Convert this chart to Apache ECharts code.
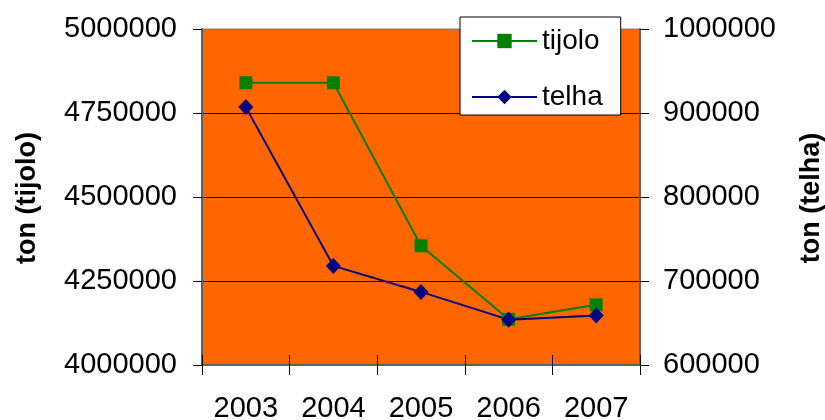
<!DOCTYPE html>
<html>
<head>
<meta charset="utf-8">
<script src="https://cdn.jsdelivr.net/npm/echarts@6/dist/echarts.min.js"></script>
<style>
  html, body { margin: 0; padding: 0; background: #fff; }
  #chart { width: 825px; height: 420px; }
</style>
</head>
<body>
<div id="chart"></div>
<script>
const years = ['2003', '2004', '2005', '2006', '2007']
const tijolo = [4840000, 4840000, 4355000, 4136000, 4179000]
const telha = [907000, 718000, 687000, 654000, 659000]

const font = 'Liberation Sans, Arial, sans-serif'
const chart = echarts.init(document.getElementById('chart'))

chart.setOption({
  animation: false,
  textStyle: { fontFamily: font },
  grid: {
    left: 202, right: 185, top: 29, bottom: 55,
    outerBoundsMode: 'none',
    show: true, backgroundColor: '#FF6600', borderColor: '#808080', borderWidth: 1
  },
  legend: {
    orient: 'vertical',
    left: 460, top: 17,
    padding: [10, 18, 4, 11],
    itemWidth: 65, itemHeight: 18, itemGap: 28,
    backgroundColor: '#fff', borderColor: '#000', borderWidth: 1,
    textStyle: { fontSize: 28, lineHeight: 28, color: '#000', fontFamily: font }
  },
  xAxis: [
    {
      type: 'category', data: years, boundaryGap: true,
      axisLine: { lineStyle: { color: '#606060', width: 2 } },
      axisTick: { show: true, length: 10, lineStyle: { color: '#000' } },
      axisLabel: { fontSize: 29, color: '#000', margin: 29, fontFamily: font }
    },
    {
      type: 'category', data: years, position: 'bottom', boundaryGap: true,
      axisLine: { show: false },
      axisTick: { show: true, inside: true, length: 10, lineStyle: { color: '#000' } },
      axisLabel: { show: false }
    }
  ],
  yAxis: [
    {
      type: 'value', min: 4000000, max: 5000000, interval: 250000,
      axisLine: { show: true, lineStyle: { color: '#606060', width: 2 } },
      axisTick: { show: true, length: 9, lineStyle: { color: '#000' } },
      axisLabel: { fontSize: 29, color: '#000', margin: 25, fontFamily: font, formatter: (v) => String(v) },
      splitLine: { show: true, lineStyle: { color: ['#808080', '#000', '#000', '#000', '#808080'], width: 1 } }
    },
    {
      type: 'value', min: 600000, max: 1000000, interval: 100000, position: 'right',
      axisLine: { show: true, lineStyle: { color: '#606060', width: 2 } },
      axisTick: { show: true, length: 9, lineStyle: { color: '#000' } },
      axisLabel: { fontSize: 29, color: '#000', margin: 23, fontFamily: font, formatter: (v) => String(v) },
      splitLine: { show: false }
    }
  ],
  graphic: [
    {
      type: 'text', x: 28, y: 198, rotation: Math.PI / 2,
      style: { text: 'ton (tijolo)', font: 'bold 27px ' + font, fill: '#000', align: 'center', verticalAlign: 'middle' }
    },
    {
      type: 'text', x: 812, y: 198, rotation: Math.PI / 2,
      style: { text: 'ton (telha)', font: 'bold 27px ' + font, fill: '#000', align: 'center', verticalAlign: 'middle' }
    }
  ],
  series: [
    {
      name: 'tijolo', type: 'line', data: tijolo, yAxisIndex: 0,
      symbol: 'rect', symbolSize: 13,
      lineStyle: { color: '#008000', width: 2 },
      itemStyle: { color: '#008000' }
    },
    {
      name: 'telha', type: 'line', data: telha, yAxisIndex: 1,
      symbol: 'diamond', symbolSize: [15, 16],
      lineStyle: { color: '#000080', width: 2 },
      itemStyle: { color: '#000080' }
    }
  ]
})
</script>
</body>
</html>
